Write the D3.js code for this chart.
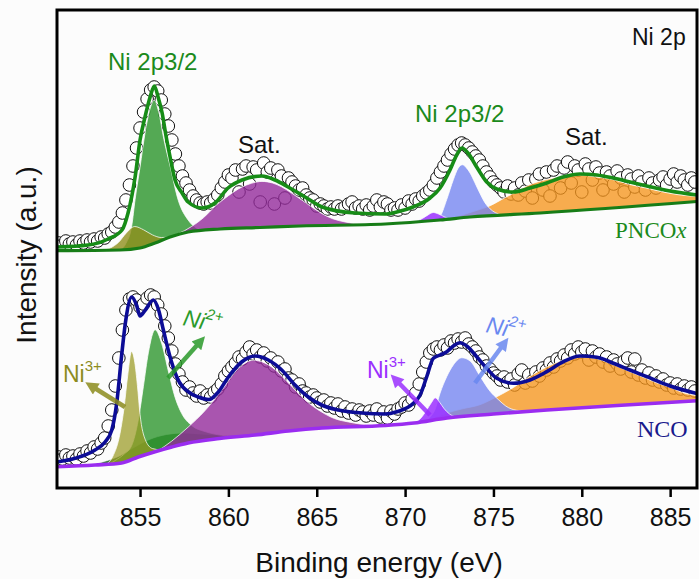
<!DOCTYPE html>
<html><head><meta charset="utf-8">
<script src="https://cdn.jsdelivr.net/npm/d3@7"></script>
<style>body{margin:0;background:#fff}svg{display:block}</style>
</head><body>
<svg id="chart" width="699" height="579"></svg>
<script>
// ---------------- DATA ----------------
const xTicks = [855, 860, 865, 870, 875, 880, 885];
const xDomain = [850.3, 886.52];
const yDomain = [0, 478];
// measured data points: start energy 850.4 eV, step 0.2 eV (one row per eV)
const dataStart = 850.4, dataStep = 0.2;
const topData = [
  245, 243, 247,
  244, 246, 243, 247, 245,
  248, 246, 249, 247, 251,
  250, 254, 256, 261, 266,
  275, 288, 303, 322, 340,
  360, 376, 389, 398, 401,
  397, 388, 374, 362, 348,
  334, 322, 312, 305, 298,
  292, 288, 285, 284, 286,
  285, 289, 293, 300, 306,
  313, 310, 318, 296, 319,
  322, 304, 321, 318, 286,
  325, 316, 320, 284, 318,
  312, 290, 310, 306, 302,
  298, 300, 293, 290, 288,
  282, 284, 282, 279, 281,
  279, 282, 279, 281, 284,
  286, 280, 282, 279, 283,
  278, 282, 288, 281, 286,
  284, 278, 280, 278, 283,
  280, 287, 284, 289, 287,
  292, 295, 298, 303, 310,
  316, 322, 328, 334, 339,
  343, 345, 343, 340, 336,
  332, 328, 322, 316, 311,
  306, 303, 300, 296, 302,
  294, 300, 293, 305, 297,
  308, 290, 309, 314, 298,
  316, 292, 318, 322, 300,
  320, 326, 305, 322, 318,
  296, 324, 319, 308, 321,
  315, 298, 316, 312, 304,
  317, 310, 296, 313, 309,
  301, 312, 306, 298, 310,
  305, 300, 308, 311, 303,
  309, 314, 306, 312, 308,
  303, 310, 306
];
const botData = [
  31, 29, 33,
  30, 32, 29, 34, 32,
  37, 35, 41, 39, 45,
  50, 62, 78, 102, 130,
  158, 178, 189, 191, 188,
  181, 184, 190, 193, 191,
  183, 174, 162, 150, 137,
  124, 114, 106, 98, 101,
  95, 92, 97, 90, 93,
  91, 96, 99, 104, 112,
  117, 121, 125, 131, 129,
  136, 141, 134, 138, 131,
  135, 127, 130, 122, 126,
  117, 119, 110, 108, 101,
  104, 97, 95, 91, 93,
  90, 86, 88, 82, 85,
  80, 84, 77, 81, 75,
  79, 73, 78, 76, 72,
  77, 73, 79, 71, 76,
  70, 77, 74, 79, 81,
  85, 83, 89, 95, 104,
  116, 126, 135, 139, 141,
  138, 143, 140, 147, 145,
  149, 146, 150, 144, 141,
  137, 131, 128, 122, 119,
  115, 112, 108, 111, 106,
  109, 103, 114, 118, 105,
  113, 107, 116, 112, 120,
  118, 125, 121, 129, 127,
  133, 130, 138, 134, 141,
  136, 139, 128, 137, 131,
  134, 126, 131, 122, 128,
  124, 119, 127, 130, 116,
  129, 113, 118, 110, 115,
  108, 112, 106, 109, 103,
  105, 100, 104, 99, 102,
  98, 101, 97
];
// PNCOx fit envelope and background [eV, intensity]
const topFit = [[850.3,241],[852.06,243],[853.19,249],[853.98,258],[854.32,275],[854.72,311],[855.0,348],[855.28,371],[855.57,391],[855.81,402],[856.02,391],[856.25,375],[856.47,352],[856.7,331],[856.98,308],[857.38,295],[857.72,286],[858.51,280],[859.24,285],[859.98,300],[860.77,308],[861.9,312],[862.64,308],[863.38,301],[864.34,291],[865.3,281],[867.17,275],[868.87,274],[869.53,276],[870.45,281],[871.41,290],[871.98,300],[872.54,318],[872.92,333],[873.21,340],[873.56,335],[874.05,321],[874.62,306],[875.19,299],[876.11,296],[877.07,300],[878.02,305],[878.94,311],[879.9,314],[880.85,313],[881.77,310],[882.73,306],[883.68,302],[884.99,297],[886.52,293]];
const topBg = [[850.3,237.3],[853.87,238],[855.0,240],[855.85,245],[856.7,251],[857.72,256],[859.53,259],[861.79,260.5],[864.05,262],[868.87,264],[871.98,268],[873.68,271],[877.64,275],[886.52,286.5]];
// PNCOx components (height above background)
const topNi3a = [[852.8,0],[853.3,2],[853.8,8],[854.2,16],[854.7,22],[855.2,17],[855.7,9],[856.2,3],[856.7,0]];
const topNi2a = [[853.9,0],[854.2,6],[854.53,23],[854.72,49],[855.0,81],[855.28,113],[855.55,135],[855.8,143],[856.05,130],[856.35,100],[856.7,71],[857.17,34],[857.72,12],[858.2,3],[858.6,0]];
const topSatA = [[856.4,0],[857.9,5],[858.6,13],[859.24,23],[860.0,33],[860.75,41],[861.3,44.5],[861.9,46],[862.5,44],[863.0,40],[863.6,33],[864.15,26],[864.7,19],[865.28,12],[865.9,6.5],[866.6,3],[867.5,0]];
const topNi3b = [[870.6,0],[871.0,3],[871.3,6],[871.6,8],[871.9,6],[872.2,3],[872.5,0]];
const topNi2b = [[871.7,0],[872.0,4],[872.36,20],[872.73,39],[873.0,50],[873.25,53],[873.45,50],[873.68,44],[873.95,34],[874.24,23],[874.5,14],[874.81,7],[875.1,3],[875.5,0]];
const topSatB = [[872.3,0],[873.0,2],[874.0,6],[874.8,10],[875.5,16],[876.1,21],[877.07,29],[878.0,33],[879.0,35],[879.9,35],[880.8,32],[881.77,28],[882.7,22],[883.68,17],[884.6,12],[885.5,8],[886.52,5]];
// NCO fit envelope and background
const botFit = [[850.3,26],[851.32,29.7],[852.45,38],[853.02,46],[853.4,58],[853.68,85],[853.96,133],[854.17,165],[854.53,191],[854.8,183],[855.0,172],[855.3,178],[855.75,188],[856.05,178],[856.32,158],[856.7,131],[857.08,111],[857.83,95],[858.3,91],[858.9,88.5],[859.43,96],[860.0,111],[860.75,126],[861.51,132],[862.26,128],[863.02,118],[863.77,103],[864.52,91],[865.28,83],[866.22,78],[867.55,75],[868.87,74],[869.53,76.3],[870.47,84.7],[870.85,93],[871.22,111],[871.6,129.7],[871.98,133],[872.36,136.3],[872.73,142],[873.11,145.3],[873.49,142],[874.05,131.3],[874.62,119.7],[875.19,109.7],[876.13,104.7],[877.07,108],[878.02,116.3],[878.96,126.3],[879.9,132],[880.85,130.7],[881.79,124.7],[882.73,118],[883.68,111.3],[885.0,102],[886.52,94.5]];
const botBg = [[850.3,21.3],[852.45,23],[853.96,25],[854.9,31],[855.85,36.3],[856.8,41],[857.72,45],[859.5,49.5],[861.51,53],[863.4,57],[865.3,60],[868.87,62.5],[870.5,65],[872.37,70],[875.0,74],[878.03,78],[882.0,82.5],[886.52,87.3]];
// NCO components
const botBroad = [[852.3,0],[853.0,3],[853.8,7],[854.6,11],[855.5,14],[856.5,14],[857.5,11],[858.5,7],[859.5,3.5],[860.5,1],[861.5,0]];
const botNi3a = [[853.1,0],[853.45,7],[853.87,30],[854.1,55],[854.3,85],[854.52,108],[854.7,96],[854.85,72],[855.0,42],[855.3,15],[855.7,4],[856.2,0]];
const botNi2a = [[853.3,0],[853.6,3],[854.1,8],[854.53,14],[854.9,37],[855.19,69],[855.47,101],[855.85,122],[856.23,106],[856.6,77],[856.98,49],[857.36,31],[857.92,17],[858.68,9],[859.62,3],[860.5,0]];
const botSatA = [[856.0,0],[856.8,6],[857.73,16],[858.68,30],[859.62,48],[860.56,68],[861.41,75],[862.45,66],[863.4,48],[864.34,29.5],[865.28,16],[866.0,9],[866.79,5],[868.1,1],[869.0,0]];
const botNi3b = [[870.5,0],[870.9,4],[871.22,11],[871.5,18],[871.7,22],[871.95,17],[872.2,10],[872.5,4],[872.9,0]];
const botNi2b = [[871.2,0],[871.45,4],[871.69,10],[871.98,26],[872.36,41.5],[872.73,52.5],[873.21,59],[873.68,55],[874.24,39],[874.81,23],[875.28,14],[875.7,7],[876.3,2],[877.0,0]];
const botSatB = [[871.3,0],[872.36,5],[873.3,8],[874.24,10.5],[875.19,17],[876.13,25],[877.07,35],[878.02,43],[878.96,49],[879.9,51],[880.85,48],[881.79,41],[882.73,33],[883.68,25],[884.4,19],[885.0,15],[885.7,9],[886.52,5]];

// ---------------- CHART ----------------
const W = 699, H = 579;
const m = {left: 57, right: 697, top: 10, bottom: 488};
const svg = d3.select('#chart');
svg.append('rect').attr('width', W).attr('height', H).attr('fill', '#fcfcfc');

const x = d3.scaleLinear().domain(xDomain).range([m.left, m.right]);
const y = d3.scaleLinear().domain(yDomain).range([m.bottom, m.top]);

svg.append('clipPath').attr('id', 'clip').append('rect')
  .attr('x', m.left).attr('y', m.top).attr('width', m.right - m.left).attr('height', m.bottom - m.top);
const g = svg.append('g').attr('clip-path', 'url(#clip)');

const line = d3.line().x(d => x(d[0])).y(d => y(d[1])).curve(d3.curveMonotoneX);

function bgScale(bg) {
  return d3.scaleLinear().domain(bg.map(d => d[0])).range(bg.map(d => d[1])).clamp(true);
}
function component(comp, bg, color, op) {
  const b = bgScale(bg);
  const area = d3.area().x(d => x(d[0])).y0(d => y(b(d[0]))).y1(d => y(b(d[0]) + d[1])).curve(d3.curveMonotoneX);
  g.append('path').datum(comp).attr('d', area)
    .attr('fill', color).attr('fill-opacity', op)
    .attr('stroke', '#ffffff').attr('stroke-width', 1).attr('stroke-opacity', 0.75);
}
function points(arr) {
  g.append('g').selectAll('circle').data(arr).join('circle')
    .attr('cx', (d, i) => x(dataStart + i * dataStep))
    .attr('cy', d => y(d))
    .attr('r', 6.3)
    .attr('fill', '#ffffff').attr('stroke', '#111').attr('stroke-width', 1);
}

// data circles
points(topData);
points(botData);

// PNCOx components
component(topNi2a, topBg, '#2e962e', 0.82);
component(topNi3a, topBg, '#8f8f1c', 0.8);
component(topSatA, topBg, '#932b9b', 0.8);
component(topSatB, topBg, '#f5951c', 0.78);
component(topNi2b, topBg, '#7586f0', 0.8);
component(topNi3b, topBg, '#9b30ff', 0.85);
// NCO components
component(botBroad, botBg, '#1c661c', 0.85);
component(botNi2a, botBg, '#2e962e', 0.8);
component(botNi3a, botBg, '#9a9a22', 0.72);
component(botSatA, botBg, '#932b9b', 0.8);
component(botSatB, botBg, '#f5951c', 0.78);
component(botNi2b, botBg, '#7586f0', 0.8);
component(botNi3b, botBg, '#9b30ff', 0.85);

// backgrounds and fits
g.append('path').datum(topBg).attr('d', line).attr('fill', 'none').attr('stroke', '#177d17').attr('stroke-width', 3.2);
g.append('path').datum(topFit).attr('d', line).attr('fill', 'none').attr('stroke', '#178c17').attr('stroke-width', 3.6);
g.append('path').datum(botBg).attr('d', line).attr('fill', 'none').attr('stroke', '#9a2cf0').attr('stroke-width', 3.6);
g.append('path').datum(botFit).attr('d', line).attr('fill', 'none').attr('stroke', '#0c0c96').attr('stroke-width', 3.6);

// frame
svg.append('rect').attr('x', m.left).attr('y', m.top)
  .attr('width', m.right - m.left).attr('height', m.bottom - m.top)
  .attr('fill', 'none').attr('stroke', '#000').attr('stroke-width', 3);

// x axis
const xa = svg.append('g').attr('transform', `translate(0,${m.bottom})`)
  .call(d3.axisBottom(x).tickValues(xTicks).tickSize(9).tickPadding(11).tickFormat(d3.format('d')));
xa.select('.domain').remove();
xa.selectAll('.tick line').attr('stroke', '#000').attr('stroke-width', 2.5);
xa.selectAll('.tick text').attr('font-family', '"Liberation Sans", Arial, sans-serif').attr('font-size', 25).attr('fill', '#111');

const sans = '"Liberation Sans", Arial, sans-serif';
const serif = '"Liberation Serif", "Times New Roman", serif';
svg.append('text').attr('x', 379).attr('y', 572).attr('text-anchor', 'middle')
  .attr('font-family', sans).attr('font-size', 28).attr('fill', '#111').text('Binding energy (eV)');
svg.append('text').attr('transform', 'translate(36,255) rotate(-90)').attr('text-anchor', 'middle')
  .attr('font-family', sans).attr('font-size', 28).attr('fill', '#111').text('Intensity (a.u.)');

// annotations
function txt(px, py, s, size, color, fam) {
  return svg.append('text').attr('x', px).attr('y', py).attr('font-family', fam || sans)
    .attr('font-size', size).attr('fill', color).text(s);
}
txt(108, 70, 'Ni 2p3/2', 24, '#1b8a1b');
txt(238, 153, 'Sat.', 24, '#111');
txt(415, 122, 'Ni 2p3/2', 24, '#1b8a1b');
txt(565, 145, 'Sat.', 24, '#111');
txt(632, 45, 'Ni 2p', 23, '#111');
const pn = txt(615, 238, 'PNCO', 23, '#1b8a1b', serif);
pn.append('tspan').attr('font-style', 'italic').text('x');
txt(637, 437, 'NCO', 24, '#1a1a8c', serif);

// arrows
const defs = svg.append('defs');
function arrow(x1, y1, x2, y2, color, id) {
  defs.append('marker').attr('id', id).attr('viewBox', '0 0 10 10').attr('refX', 3).attr('refY', 5)
    .attr('markerWidth', 15).attr('markerHeight', 13).attr('markerUnits', 'userSpaceOnUse').attr('orient', 'auto')
    .append('path').attr('d', 'M0,0 L10,5 L0,10 z').attr('fill', color);
  svg.append('line').attr('x1', x1).attr('y1', y1).attr('x2', x2).attr('y2', y2)
    .attr('stroke', color).attr('stroke-width', 4.5).attr('marker-end', `url(#${id})`).attr('opacity', 0.85);
}
arrow(125, 407, 93, 387, '#8c8c1e', 'a1');
arrow(168, 378, 199, 343, '#2a9a2a', 'a2');
arrow(430, 415, 397, 381, '#9b30ff', 'a3');
arrow(475, 383, 503, 345, '#6a88f0', 'a4');

function ion(px, py, charge, color, italic, rot) {
  const gg = svg.append('g').attr('transform', `translate(${px},${py}) rotate(${rot || 0})`);
  const t = gg.append('text').attr('font-family', sans).attr('font-size', 23).attr('fill', color)
    .attr('font-style', italic ? 'italic' : 'normal');
  t.append('tspan').text('Ni');
  t.append('tspan').attr('font-size', 15).attr('dy', -11).text(charge);
}
ion(63, 382, '3+', '#8c8c1e', false, 0);
ion(182, 325, '2+', '#2a9a2a', true, 12);
ion(367, 378, '3+', '#9b30ff', false, 0);
ion(485, 332, '2+', '#6a88f0', true, 12);
</script>
</body></html>
